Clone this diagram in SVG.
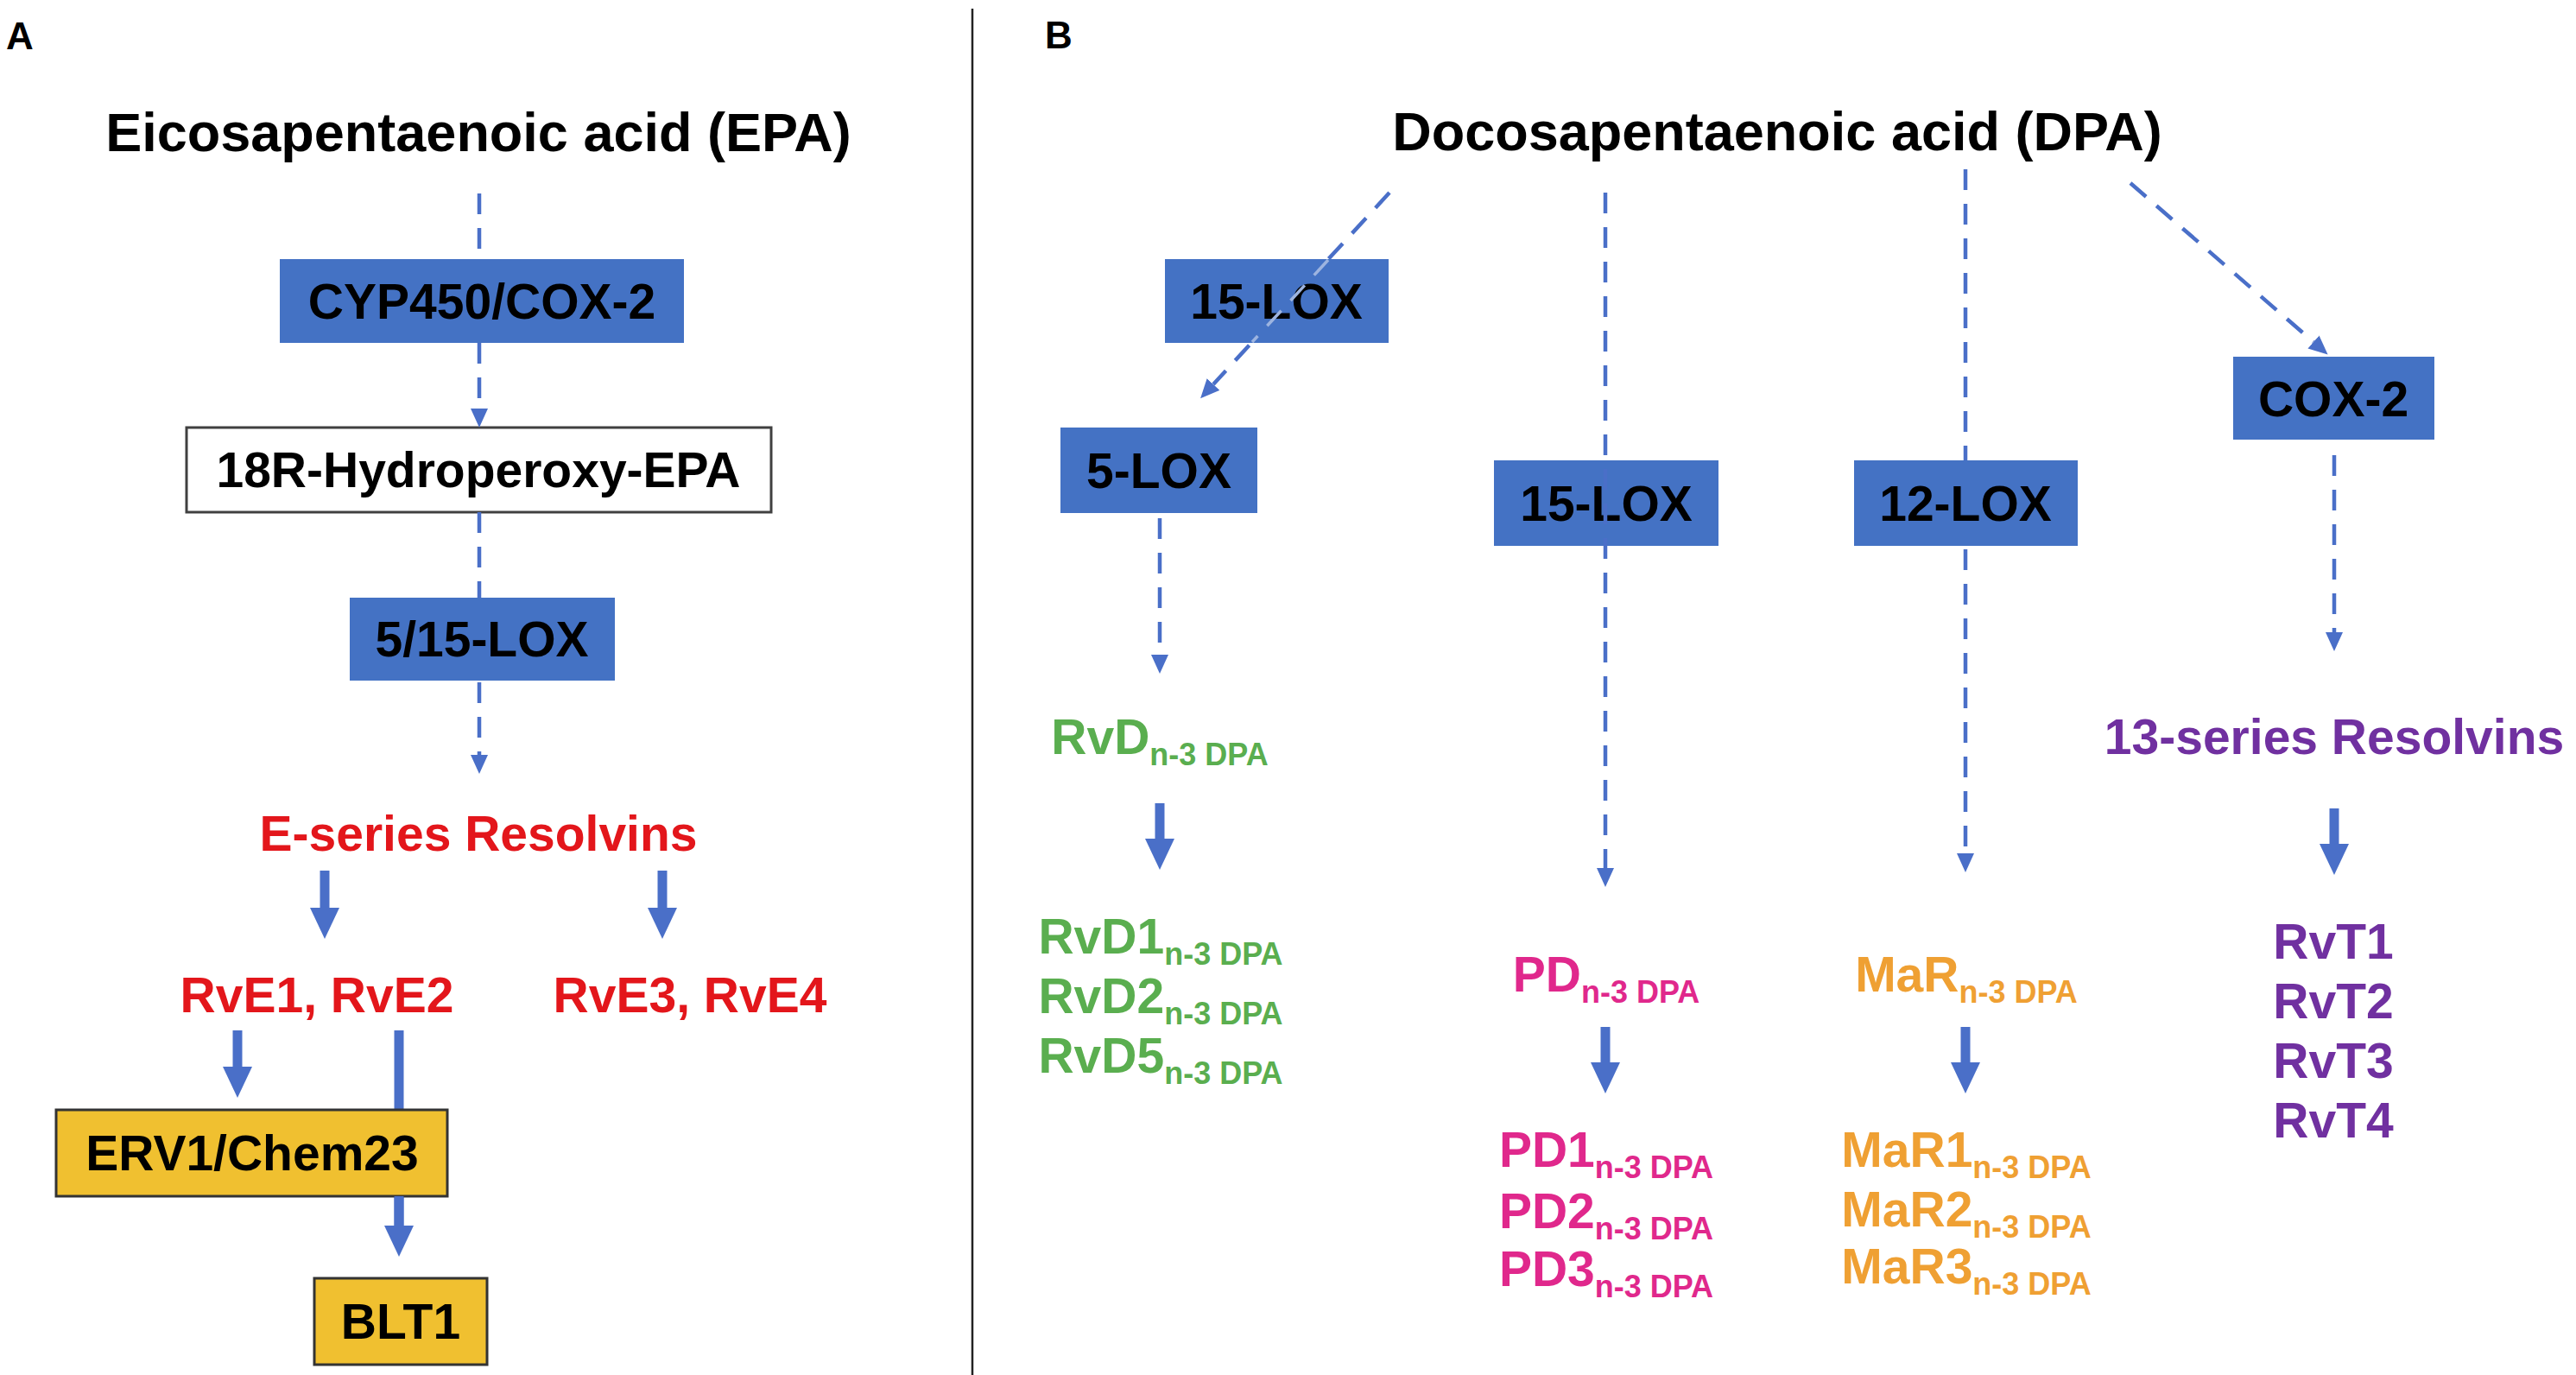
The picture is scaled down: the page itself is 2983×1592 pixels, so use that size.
<svg xmlns="http://www.w3.org/2000/svg" width="2983" height="1592" viewBox="0 0 2983 1592">
<defs>
<style>
text{font-family:"Liberation Sans",Arial,sans-serif;font-weight:bold}
.title{font-size:63px;fill:#000}
.panel{font-size:44px;fill:#000}
.lbl{font-size:57px;fill:#000;text-anchor:middle}
.enz{fill:#4472C4}
.inter{fill:#fff;stroke:#404040;stroke-width:3}
.rec{fill:#F0C030;stroke:#333;stroke-width:3}
.dash{stroke:#4A6FC8;stroke-width:4.5;stroke-dasharray:24 16;fill:none}
.faint{stroke:#9DB4E0;stroke-width:3.5;stroke-dasharray:24 16;fill:none}
.thick{stroke:#4A6FC8;stroke-width:11;fill:none}
.red{fill:#E3161B}
.green{fill:#5AAE4F}
.pink{fill:#E0288C}
.orange{fill:#EFA033}
.purple{fill:#7030A0}
.sub{font-size:36px}
</style>
<marker id="ah" markerUnits="userSpaceOnUse" markerWidth="22" markerHeight="20" refX="0" refY="10" orient="auto">
<path d="M0,0 L22,10 L0,20 z" fill="#4A6FC8"/>
</marker>
<marker id="th" markerUnits="userSpaceOnUse" markerWidth="36" markerHeight="34" refX="0" refY="17" orient="auto">
<path d="M0,0 L36,17 L0,34 z" fill="#4A6FC8"/>
</marker>
</defs>
<rect width="2983" height="1592" fill="#fff"/>

<g id="panel-labels">
<text class="panel" x="7" y="57">A</text>
<text class="panel" x="1210" y="56">B</text>
<line x1="1126" y1="10" x2="1126" y2="1592" stroke="#222" stroke-width="2.5"/>
</g>

<g id="connectors-under">
<line class="thick" x1="462" y1="1193" x2="462" y2="1419"/>
<line class="dash" x1="1609" y1="223" x2="1405" y2="445" marker-end="url(#ah)"/>
<line class="dash" x1="2276" y1="196" x2="2276" y2="988" marker-end="url(#ah)"/>
</g>

<g id="epa"><text class="title" x="554" y="175" text-anchor="middle">Eicosapentaenoic acid (EPA)</text></g>
<g id="cyp"><rect class="enz" x="324" y="300" width="468" height="97"/><text class="lbl" x="558" y="369">CYP450/COX-2</text></g>
<g id="hpepa"><rect class="inter" x="216" y="495" width="677" height="98"/><text class="lbl" x="554" y="564">18R-Hydroperoxy-EPA</text></g>
<g id="lox515"><rect class="enz" x="405" y="692" width="307" height="96"/><text class="lbl" x="558" y="760">5/15-LOX</text></g>
<g id="eseries"><text class="lbl red" x="554" y="985">E-series Resolvins</text></g>
<g id="rve12"><text class="lbl red" x="367" y="1172">RvE1, RvE2</text></g>
<g id="rve34"><text class="lbl red" x="799" y="1172">RvE3, RvE4</text></g>
<g id="erv1"><rect class="rec" x="65" y="1285" width="453" height="100"/><text class="lbl" x="292" y="1355">ERV1/Chem23</text></g>
<g id="blt1"><rect class="rec" x="364" y="1480" width="200" height="100"/><text class="lbl" x="464" y="1550">BLT1</text></g>

<g id="dpa"><text class="title" x="2058" y="174" text-anchor="middle">Docosapentaenoic acid (DPA)</text></g>
<g id="lox15a"><rect class="enz" x="1349" y="300" width="259" height="97"/><text class="lbl" x="1478" y="369">15-LOX</text></g>
<g id="lox5"><rect class="enz" x="1228" y="495" width="228" height="99"/><text class="lbl" x="1342" y="565">5-LOX</text></g>
<g id="lox15b"><rect class="enz" x="1730" y="533" width="260" height="99"/><text class="lbl" x="1860" y="603">15-LOX</text></g>
<g id="lox12"><rect class="enz" x="2147" y="533" width="259" height="99"/><text class="lbl" x="2276" y="603">12-LOX</text></g>
<g id="cox2"><rect class="enz" x="2586" y="413" width="233" height="96"/><text class="lbl" x="2702" y="482">COX-2</text></g>

<g id="rvd"><text class="lbl green" x="1343" y="873">RvD<tspan class="sub" dy="13">n-3 DPA</tspan></text></g>
<g id="rvd-list">
<text class="lbl green" x="1344" y="1104">RvD1<tspan class="sub" dy="13">n-3 DPA</tspan></text>
<text class="lbl green" x="1344" y="1173">RvD2<tspan class="sub" dy="13">n-3 DPA</tspan></text>
<text class="lbl green" x="1344" y="1242">RvD5<tspan class="sub" dy="13">n-3 DPA</tspan></text>
</g>
<g id="pd"><text class="lbl pink" x="1860" y="1148">PD<tspan class="sub" dy="13">n-3 DPA</tspan></text></g>
<g id="pd-list">
<text class="lbl pink" x="1860" y="1351">PD1<tspan class="sub" dy="13">n-3 DPA</tspan></text>
<text class="lbl pink" x="1860" y="1422">PD2<tspan class="sub" dy="13">n-3 DPA</tspan></text>
<text class="lbl pink" x="1860" y="1489">PD3<tspan class="sub" dy="13">n-3 DPA</tspan></text>
</g>
<g id="mar"><text class="lbl orange" x="2277" y="1148">MaR<tspan class="sub" dy="13">n-3 DPA</tspan></text></g>
<g id="mar-list">
<text class="lbl orange" x="2277" y="1351">MaR1<tspan class="sub" dy="13">n-3 DPA</tspan></text>
<text class="lbl orange" x="2277" y="1420">MaR2<tspan class="sub" dy="13">n-3 DPA</tspan></text>
<text class="lbl orange" x="2277" y="1486">MaR3<tspan class="sub" dy="13">n-3 DPA</tspan></text>
</g>
<g id="t13"><text class="lbl purple" x="2703" y="873">13-series Resolvins</text></g>
<g id="rvt-list">
<text class="lbl purple" x="2702" y="1110">RvT1</text>
<text class="lbl purple" x="2702" y="1179">RvT2</text>
<text class="lbl purple" x="2702" y="1248">RvT3</text>
<text class="lbl purple" x="2702" y="1317">RvT4</text>
</g>

<g id="connectors">
<line class="dash" x1="555" y1="224" x2="555" y2="300"/>
<line class="dash" x1="555" y1="397" x2="555" y2="473" marker-end="url(#ah)"/>
<line class="dash" x1="555" y1="593" x2="555" y2="692"/>
<line class="dash" x1="555" y1="790" x2="555" y2="874" marker-end="url(#ah)"/>
<line class="thick" x1="376" y1="1008" x2="376" y2="1051" marker-end="url(#th)"/>
<line class="thick" x1="767" y1="1008" x2="767" y2="1051" marker-end="url(#th)"/>
<line class="thick" x1="275" y1="1193" x2="275" y2="1235" marker-end="url(#th)"/>
<line class="thick" x1="462" y1="1385" x2="462" y2="1419" marker-end="url(#th)"/>

<line class="faint" x1="1538" y1="301" x2="1450" y2="396"/>
<line class="dash" x1="1343" y1="600" x2="1343" y2="758" marker-end="url(#ah)"/>
<line class="thick" x1="1343" y1="930" x2="1343" y2="971" marker-end="url(#th)"/>
<line class="dash" x1="1859" y1="210" x2="1859" y2="1005" marker-end="url(#ah)" style="stroke-dashoffset:27"/>
<line class="thick" x1="1859" y1="1189" x2="1859" y2="1230" marker-end="url(#th)"/>
<line class="thick" x1="2276" y1="1189" x2="2276" y2="1230" marker-end="url(#th)"/>
<line class="dash" x1="2467" y1="212" x2="2679" y2="396" marker-end="url(#ah)"/>
<line class="dash" x1="2703" y1="527" x2="2703" y2="732" marker-end="url(#ah)"/>
<line class="thick" x1="2703" y1="936" x2="2703" y2="977" marker-end="url(#th)"/>
</g>
</svg>
